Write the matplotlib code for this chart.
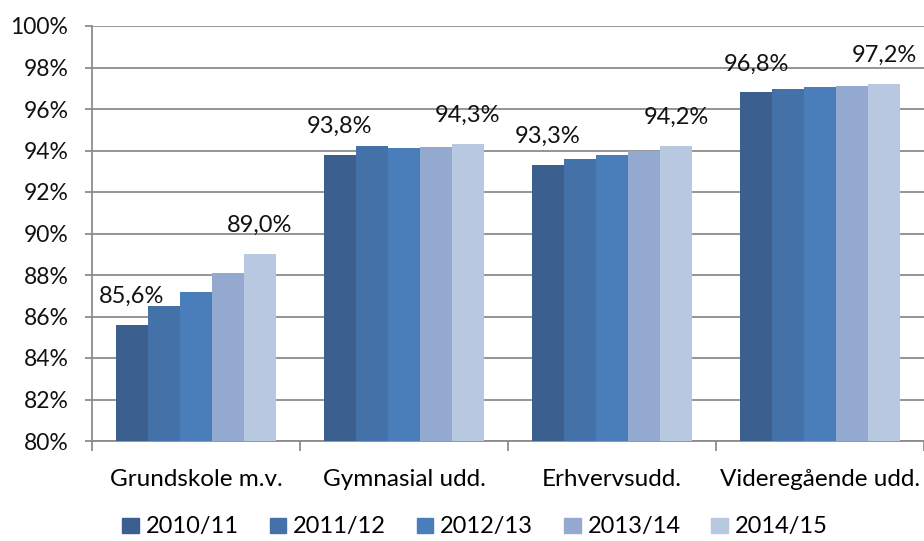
import matplotlib

matplotlib.use("Agg")
import matplotlib.pyplot as plt
from matplotlib.patches import Patch
import numpy as np

plt.rcParams["font.family"] = ["Lato", "DejaVu Sans"]

categories = ["Grundskole m.v.", "Gymnasial udd.", "Erhvervsudd.", "Videregående udd."]
years = ["2010/11", "2011/12", "2012/13", "2013/14", "2014/15"]
values = {
    "2010/11": [85.6, 93.8, 93.3, 96.8],
    "2011/12": [86.5, 94.2, 93.6, 96.95],
    "2012/13": [87.2, 94.1, 93.8, 97.05],
    "2013/14": [88.1, 94.15, 94.0, 97.1],
    "2014/15": [89.0, 94.3, 94.2, 97.2],
}
colors = ["#3B5F8E", "#4471A7", "#4A7EBB", "#94A9CF", "#B9C8E1"]
grey = "#8C8C8C"

fig = plt.figure(figsize=(9.24, 5.41), dpi=100)
ax = fig.add_axes([92 / 924, 1 - 441 / 541, 1 - 92 / 924, (441 - 26) / 541])

x = np.arange(len(categories))
w = 32 / 208
for i, yr in enumerate(years):
    pos = x + (i - 2) * w
    ax.bar(pos, np.array(values[yr]) - 80, bottom=80, width=w, color=colors[i], zorder=3)
    # only first and last season get a value label
    if i in (0, len(years) - 1):
        for px, v in zip(pos, values[yr]):
            ax.annotate(f"{v:.1f}%".replace(".", ","), (px, v), xytext=(0, 13),
                        textcoords="offset points", ha="center", va="bottom",
                        fontsize=17, color="#111111", zorder=4)

ax.set_ylim(80, 100)
ax.set_xlim(-0.5, 3.5)
ax.set_yticks(np.arange(80, 101, 2))
ax.set_yticklabels([f"{t}%" for t in range(80, 101, 2)])
ax.yaxis.grid(True, color=grey, linewidth=1.3, zorder=0)
ax.set_axisbelow(True)

ax.set_xticks(np.arange(-0.5, 4.0, 1.0))
ax.set_xticklabels([])
ax.set_xticks(x, minor=True)
ax.set_xticklabels(categories, minor=True)
ax.tick_params(axis="x", which="major", direction="out", length=7, color=grey, width=1.3)
ax.tick_params(axis="x", which="minor", length=0, pad=20, labelsize=17.5)
ax.tick_params(axis="y", direction="out", length=5, color=grey, width=1.3, labelsize=16.5,
               labelcolor="#111111", pad=12)

for s in ("top", "right"):
    ax.spines[s].set_visible(False)
for s in ("left", "bottom"):
    ax.spines[s].set_color(grey)
    ax.spines[s].set_linewidth(1.3)

handles = [Patch(color=c, label=y) for c, y in zip(colors, years)]
fig.legend(handles=handles, loc="center", bbox_to_anchor=(475 / 924, 1 - 527 / 541), ncol=5,
           frameon=False, fontsize=17, handlelength=0.7, handleheight=0.6,
           handletextpad=0.3, columnspacing=1.3, borderaxespad=0, borderpad=0)

fig.savefig("out.png", dpi=100)
